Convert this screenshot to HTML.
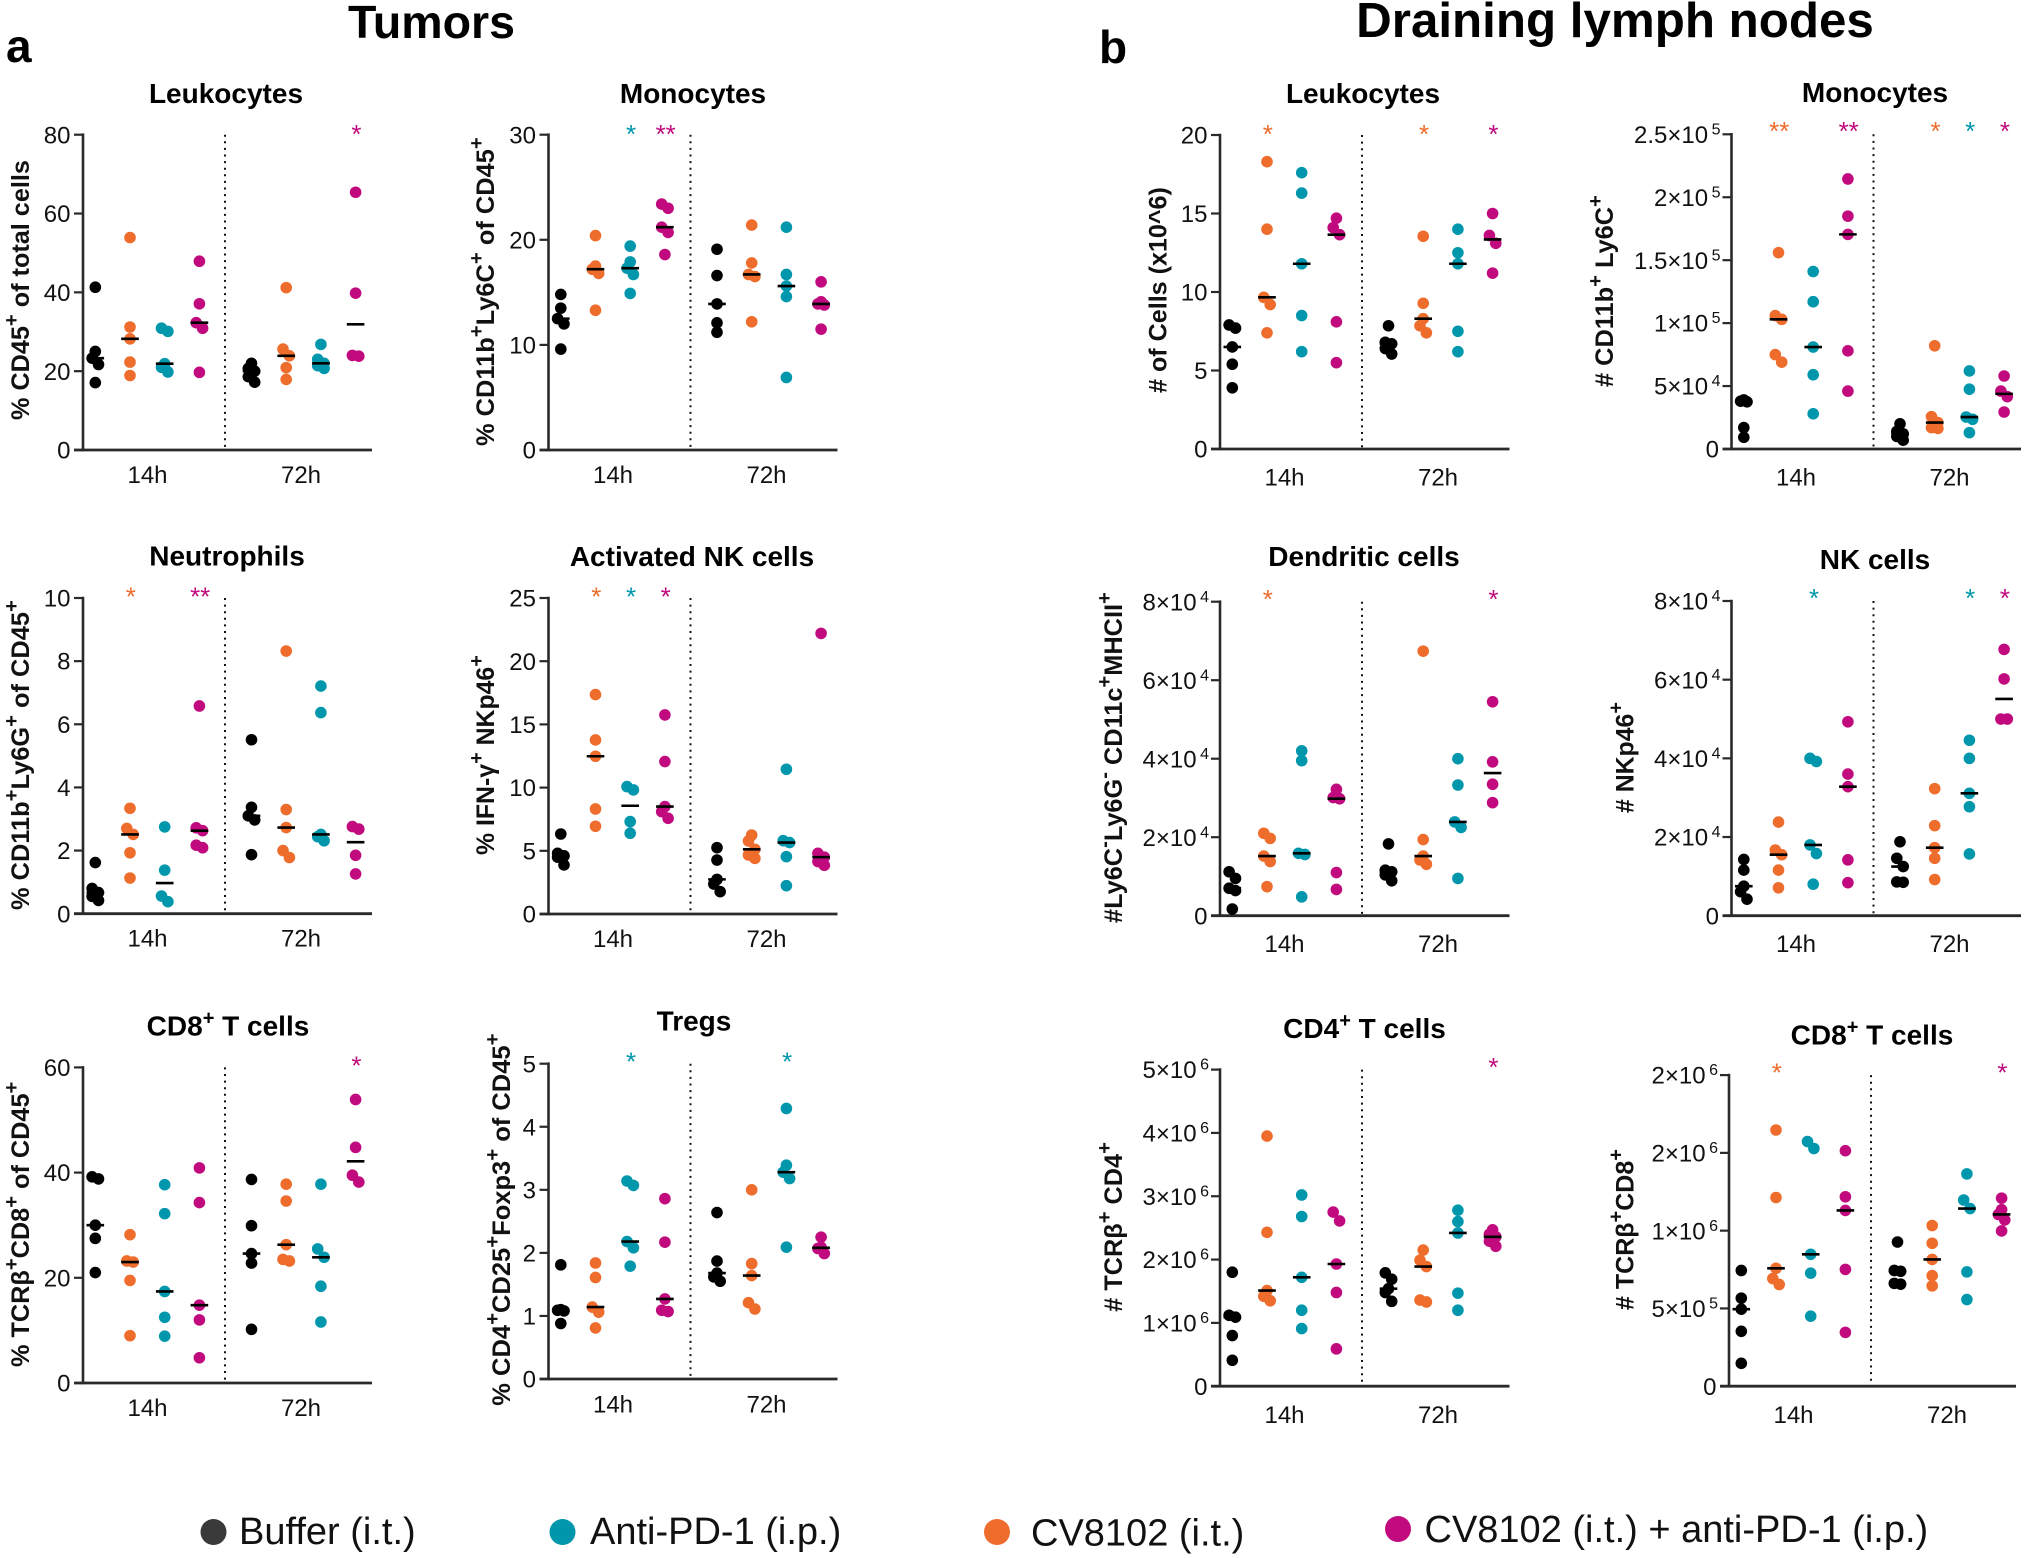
<!DOCTYPE html>
<html lang="en">
<head>
<meta charset="utf-8">
<title>Tumors and draining lymph nodes dot plots</title>
<style>
html,body{margin:0;padding:0;background:#fff;}
svg{display:block;font-family:"Liberation Sans",Arial,sans-serif;}
</style>
</head>
<body>
<svg id="figure" xmlns="http://www.w3.org/2000/svg" width="2024" height="1558" viewBox="0 0 2024 1558">
  <rect x="0" y="0" width="2024" height="1558" fill="#fff"/>
  <text x="431.500" y="38" text-anchor="middle" font-size="46.500" font-weight="700" fill="#000">Tumors</text>
  <text x="1615" y="37" text-anchor="middle" font-size="49.300" font-weight="700" fill="#000">Draining lymph nodes</text>
  <text x="6" y="62" font-size="46" font-weight="700" fill="#000">a</text>
  <text x="1099" y="63" font-size="46" font-weight="700" fill="#000">b</text>
  <g id="charts"></g>
  <g>
    <g>
      <circle cx="213.500" cy="1532" r="13" fill="#3a3a3a"/>
      <text x="239" y="1544" font-size="38" fill="#111">Buffer (i.t.)</text>
    </g>
    <g>
      <circle cx="562.500" cy="1532" r="13" fill="#0097ad"/>
      <text x="590" y="1544" font-size="38" fill="#111">Anti-PD-1 (i.p.)</text>
    </g>
    <g>
      <circle cx="997" cy="1532" r="13" fill="#ee6c2c"/>
      <text x="1031" y="1545.500" font-size="38" fill="#111">CV8102 (i.t.)</text>
    </g>
    <g>
      <circle cx="1398" cy="1529" r="13" fill="#c00a7e"/>
      <text x="1424.500" y="1542" font-size="38" fill="#111">CV8102 (i.t.) + anti-PD-1 (i.p.)</text>
    </g>
  </g>
</svg>
<script>
// ---- shared categories ----
const timepoints = ['14h', '72h'];
const groupNames = ['buffer', 'cv8102', 'anti-pd-1', 'combination', 'buffer', 'cv8102', 'anti-pd-1', 'combination'];
const groupColors = ['#000000', '#ee6c2c', '#0097ad', '#c00a7e', '#000000', '#ee6c2c', '#0097ad', '#c00a7e'];

// ---- Tumors: Leukocytes ----
const tumorLeukocytesTicks = [0, 20, 40, 60, 80];
const tumorLeukocytesLabels = ['0', '20', '40', '60', '80'];
const tumorLeukocytesSig = ['', '', '', '', '', '', '', '*'];
const tumorLeukocytesValues = [
  [41.3, 25, 23.3, 21.7, 17.1],
  [53.9, 31.2, 28.2, 22.3, 18.9],
  [30.9, 30.1, 21.9, 21, 19.8],
  [47.9, 37.1, 32.3, 30.9, 19.7],
  [22, 20.7, 20, 18.6, 17.2],
  [41.2, 25.6, 23.9, 20.9, 17.9],
  [26.8, 23, 22, 21.4, 20.7],
  [65.4, 39.8, 24, 23.8]
];

// ---- Tumors: Monocytes ----
const tumorMonocytesTicks = [0, 10, 20, 30];
const tumorMonocytesLabels = ['0', '10', '20', '30'];
const tumorMonocytesSig = ['', '', '*', '**', '', '', '', ''];
const tumorMonocytesValues = [
  [14.8, 13.5, 12.5, 12, 9.6],
  [20.4, 17.5, 17.2, 16.8, 13.3],
  [19.4, 17.9, 17.3, 16.7, 14.9],
  [23.4, 23, 21.2, 20.7, 18.6],
  [19.1, 16.6, 13.9, 12.1, 11.2],
  [21.4, 17.8, 16.7, 16.5, 12.2],
  [21.2, 16.7, 15.6, 14.6, 6.9],
  [16, 14.1, 13.9, 13.8, 11.5]
];

// ---- Tumors: Neutrophils ----
const tumorNeutrophilsTicks = [0, 2, 4, 6, 8, 10];
const tumorNeutrophilsLabels = ['0', '2', '4', '6', '8', '10'];
const tumorNeutrophilsSig = ['', '*', '', '**', '', '', '', ''];
const tumorNeutrophilsValues = [
  [1.62, 0.8, 0.67, 0.55, 0.42],
  [3.34, 2.7, 2.51, 1.93, 1.13],
  [2.75, 1.38, 0.56, 0.38],
  [6.58, 2.72, 2.63, 2.17, 2.09],
  [5.51, 3.37, 3.1, 2.97, 1.87],
  [8.32, 3.3, 2.73, 2, 1.78],
  [7.21, 6.37, 2.51, 2.44, 2.31],
  [2.76, 2.68, 1.85, 1.26]
];

// ---- Tumors: Activated NK cells ----
const tumorNkTicks = [0, 5, 10, 15, 20, 25];
const tumorNkLabels = ['0', '5', '10', '15', '20', '25'];
const tumorNkSig = ['', '*', '*', '*', '', '', '', ''];
const tumorNkValues = [
  [6.33, 4.8, 4.6, 4.5, 3.88],
  [17.36, 13.77, 12.48, 8.31, 6.94],
  [10.08, 9.82, 7.31, 6.39],
  [15.75, 12.06, 8.5, 8.1, 7.57],
  [5.25, 4.27, 2.74, 2.37, 1.77],
  [6.25, 5.78, 5.12, 4.67, 4.4],
  [11.45, 5.8, 5.65, 4.54, 2.24],
  [22.2, 4.8, 4.5, 4.15, 3.85]
];

// ---- Tumors: CD8+ T cells ----
const tumorCd8Ticks = [0, 20, 40, 60];
const tumorCd8Labels = ['0', '20', '40', '60'];
const tumorCd8Sig = ['', '', '', '', '', '', '', '*'];
const tumorCd8Values = [
  [39.2, 38.8, 30, 27.5, 21],
  [28.2, 23.2, 23, 19.5, 9],
  [37.7, 32.2, 17.4, 12.5, 8.9],
  [40.9, 34.3, 14.8, 12, 4.8],
  [38.7, 29.9, 24.6, 22.8, 10.2],
  [37.8, 34.6, 26.3, 23.5, 23.2],
  [37.8, 25.5, 23.9, 18.4, 11.6],
  [53.9, 44.8, 39.5, 38.2]
];

// ---- Tumors: Tregs ----
const tumorTregsTicks = [0, 1, 2, 3, 4, 5];
const tumorTregsLabels = ['0', '1', '2', '3', '4', '5'];
const tumorTregsSig = ['', '', '*', '', '', '', '*', ''];
const tumorTregsValues = [
  [1.81, 1.1, 1.09, 1.08, 0.88],
  [1.84, 1.61, 1.14, 1.06, 0.81],
  [3.14, 3.07, 2.18, 2.08, 1.79],
  [2.86, 2.17, 1.27, 1.09, 1.07],
  [2.64, 1.87, 1.68, 1.62, 1.55],
  [3, 1.83, 1.64, 1.21, 1.11],
  [4.29, 3.39, 3.28, 3.18, 2.09],
  [2.25, 2.09, 2.07, 1.99]
];

// ---- Lymph nodes: Leukocytes ----
const nodeLeukocytesTicks = [0, 5, 10, 15, 20];
const nodeLeukocytesLabels = ['0', '5', '10', '15', '20'];
const nodeLeukocytesSig = ['', '*', '', '', '', '*', '', '*'];
const nodeLeukocytesValues = [
  [7.9, 7.7, 6.5, 5.4, 3.9],
  [18.3, 14, 9.66, 9.2, 7.4],
  [17.6, 16.3, 11.8, 8.5, 6.2],
  [14.7, 14.1, 13.65, 8.1, 5.5],
  [7.85, 6.8, 6.7, 6.4, 6.05],
  [13.55, 9.28, 8.3, 7.85, 7.4],
  [14, 12.5, 11.8, 7.5, 6.2],
  [15, 13.6, 13.1, 11.2]
];

// ---- Lymph nodes: Monocytes ----
const nodeMonocytesTicks = [0, 50000, 100000, 150000, 200000, 250000];
const nodeMonocytesLabels = ['0', '5×10^4', '1×10^5', '1.5×10^5', '2×10^5', '2.5×10^5'];
const nodeMonocytesSig = ['', '**', '', '**', '', '*', '*', '*'];
const nodeMonocytesValues = [
  [39000, 38000, 37500, 17000, 9300],
  [156000, 106000, 103000, 75000, 69000],
  [141000, 117000, 81000, 59000, 28000],
  [214500, 185000, 170500, 78000, 46000],
  [20000, 14000, 12000, 10000, 7000],
  [82000, 25700, 21000, 17000, 16400],
  [62000, 47500, 25400, 23600, 13000],
  [58000, 46000, 41600, 29400]
];

// ---- Lymph nodes: Dendritic cells ----
const nodeDendriticTicks = [0, 20000, 40000, 60000, 80000];
const nodeDendriticLabels = ['0', '2×10^4', '4×10^4', '6×10^4', '8×10^4'];
const nodeDendriticSig = ['', '*', '', '', '', '', '', '*'];
const nodeDendriticValues = [
  [11200, 9500, 7000, 6400, 1700],
  [21000, 19700, 15200, 13800, 7400],
  [42000, 39500, 15900, 15600, 4800],
  [32200, 30100, 29800, 11000, 6700],
  [18300, 11600, 11200, 10400, 8900],
  [67400, 19400, 15200, 14200, 13100],
  [40000, 33300, 23900, 22500, 9500],
  [54500, 39200, 33500, 28800]
];

// ---- Lymph nodes: NK cells ----
const nodeNkTicks = [0, 20000, 40000, 60000, 80000];
const nodeNkLabels = ['0', '2×10^4', '4×10^4', '6×10^4', '8×10^4'];
const nodeNkSig = ['', '', '*', '', '', '', '*', '*'];
const nodeNkValues = [
  [14300, 11600, 7500, 6100, 4200],
  [23800, 16700, 15500, 11600, 7100],
  [40000, 39200, 18000, 15800, 8000],
  [49300, 36000, 32800, 14200, 8400],
  [18800, 14600, 12500, 8600, 8500],
  [32300, 22900, 17300, 14600, 9200],
  [44600, 40000, 31100, 27700, 15700],
  [67700, 60200, 50000, 50000]
];

// ---- Lymph nodes: CD4+ T cells ----
const nodeCd4Ticks = [0, 1000000, 2000000, 3000000, 4000000, 5000000];
const nodeCd4Labels = ['0', '1×10^6', '2×10^6', '3×10^6', '4×10^6', '5×10^6'];
const nodeCd4Sig = ['', '', '', '', '', '', '', '*'];
const nodeCd4Values = [
  [1800000, 1120000, 1090000, 800000, 410000],
  [3950000, 2430000, 1510000, 1420000, 1350000],
  [3020000, 2680000, 1720000, 1200000, 910000],
  [2750000, 2610000, 1930000, 1480000, 590000],
  [1790000, 1690000, 1540000, 1480000, 1340000],
  [2150000, 1990000, 1890000, 1360000, 1330000],
  [2780000, 2600000, 2420000, 1470000, 1200000],
  [2470000, 2400000, 2360000, 2290000, 2210000]
];

// ---- Lymph nodes: CD8+ T cells ----
const nodeCd8Ticks = [0, 500000, 1000000, 1500000, 2000000];
const nodeCd8Labels = ['0', '5×10^5', '1×10^6', '2×10^6', '2×10^6'];
const nodeCd8Sig = ['', '*', '', '', '', '', '', '*'];
const nodeCd8Values = [
  [744000, 566000, 495000, 353000, 147000],
  [1647000, 1213000, 758000, 692000, 654000],
  [1573000, 1528000, 848000, 727000, 450000],
  [1514000, 1218000, 1130000, 751000, 346000],
  [927000, 744000, 739000, 661000, 656000],
  [1033000, 919000, 815000, 711000, 645000],
  [1365000, 1197000, 1142000, 735000, 557000],
  [1209000, 1135000, 1104000, 1069000, 998000]
];

// ---- panel wiring and layout ----
const panelSpecs = [
  {id:'tumor-leukocytes', title:'Leukocytes', yTitle:'% CD45^+ of total cells', ticks:tumorLeukocytesTicks, labels:tumorLeukocytesLabels, sig:tumorLeukocytesSig, vals:tumorLeukocytesValues,
   box:[83,134.7,450,289], tbox:[226,103], ybox:[29,420,260], star:128, xb:483},
  {id:'tumor-monocytes', title:'Monocytes', yTitle:'% CD11b^+Ly6C^+ of CD45^+', ticks:tumorMonocytesTicks, labels:tumorMonocytesLabels, sig:tumorMonocytesSig, vals:tumorMonocytesValues,
   box:[548.5,134.7,450,289], tbox:[693,103], ybox:[494,446,309], star:128, xb:483},
  {id:'tumor-neutrophils', title:'Neutrophils', yTitle:'% CD11b^+Ly6G^+ of CD45^+', ticks:tumorNeutrophilsTicks, labels:tumorNeutrophilsLabels, sig:tumorNeutrophilsSig, vals:tumorNeutrophilsValues,
   box:[83,598,913.7,289], tbox:[227,565.7], ybox:[29,910,310], star:590.7, xb:946.7},
  {id:'tumor-activated-nk', title:'Activated NK cells', yTitle:'% IFN-γ^+ NKp46^+', ticks:tumorNkTicks, labels:tumorNkLabels, sig:tumorNkSig, vals:tumorNkValues,
   box:[548.5,598,914,289], tbox:[692,566], ybox:[494,855,200], star:590.7, xb:947},
  {id:'tumor-cd8', title:'CD8^+ T cells', yTitle:'% TCRβ^+CD8^+ of CD45^+', ticks:tumorCd8Ticks, labels:tumorCd8Labels, sig:tumorCd8Sig, vals:tumorCd8Values,
   box:[83,1067.4,1383,289], tbox:[228,1035.3], ybox:[29,1367,285.6], star:1059.6, xb:1416},
  {id:'tumor-tregs', title:'Tregs', yTitle:'% CD4^+CD25^+Foxp3^+ of CD45^+', ticks:tumorTregsTicks, labels:tumorTregsLabels, sig:tumorTregsSig, vals:tumorTregsValues,
   box:[548.5,1063.7,1379,289], tbox:[694,1030.5], ybox:[510,1405.7,372.3], star:1055.6, xb:1412.4},
  {id:'node-leukocytes', title:'Leukocytes', yTitle:'# of Cells (x10^6)', raw:true, ticks:nodeLeukocytesTicks, labels:nodeLeukocytesLabels, sig:nodeLeukocytesSig, vals:nodeLeukocytesValues,
   box:[1220,135,449,289.5], tbox:[1363,103], ybox:[1166.5,393,206], star:128, xb:485.7},
  {id:'node-monocytes', title:'Monocytes', yTitle:'# CD11b^+ Ly6C^+', ticks:nodeMonocytesTicks, labels:nodeMonocytesLabels, sig:nodeMonocytesSig, vals:nodeMonocytesValues,
   box:[1731.5,134.3,449,289.5], tbox:[1875,102], ybox:[1613,387,192], star:125, xb:485.7},
  {id:'node-dendritic', title:'Dendritic cells', yTitle:'#Ly6C^-Ly6G^- CD11c^+MHCII^+', ticks:nodeDendriticTicks, labels:nodeDendriticLabels, sig:nodeDendriticSig, vals:nodeDendriticValues,
   box:[1220,601.7,915.7,289.5], tbox:[1364,566], ybox:[1122,923,331], star:593, xb:952},
  {id:'node-nk', title:'NK cells', yTitle:'# NKp46^+', ticks:nodeNkTicks, labels:nodeNkLabels, sig:nodeNkSig, vals:nodeNkValues,
   box:[1731.5,601,915.7,289.5], tbox:[1875,569], ybox:[1633.6,813,111], star:592, xb:952},
  {id:'node-cd4', title:'CD4^+ T cells', yTitle:'# TCRβ^+ CD4^+', ticks:nodeCd4Ticks, labels:nodeCd4Labels, sig:nodeCd4Sig, vals:nodeCd4Values,
   box:[1220,1069.6,1386.2,289.5], tbox:[1364.5,1038.2], ybox:[1122,1311.7,169.7], star:1061, xb:1423},
  {id:'node-cd8', title:'CD8^+ T cells', yTitle:'# TCRβ^+CD8^+', ticks:nodeCd8Ticks, labels:nodeCd8Labels, sig:nodeCd8Sig, vals:nodeCd8Values,
   box:[1729,1075.1,1386.2,287], tbox:[1872,1044.5], ybox:[1633.6,1310,161], star:1066.6, xb:1423}
];

const NS = 'http://www.w3.org/2000/svg';
const AXIS = '#2a2a2a';

function node(tag, attrs, parent) {
  const e = document.createElementNS(NS, tag);
  for (const k in attrs) e.setAttribute(k, attrs[k]);
  parent.appendChild(e);
  return e;
}

function yScale(ticks, box) {
  const max = ticks[ticks.length - 1];
  return v => box[2] - (v / max) * (box[2] - box[1]);
}

// Horizontal position of a group on the categorical axis.
function xBand(box, groupIndex) {
  const time = groupIndex < 4 ? 0 : 1;
  const within = groupIndex % 4;
  return box[0] + 12.3 + within * 34.7 + time * 156.2;
}

function median(values) {
  const s = values.slice().sort((a, b) => a - b);
  const m = Math.floor(s.length / 2);
  return s.length % 2 ? s[m] : (s[m - 1] + s[m]) / 2;
}

// Dodge points that would overlap vertically (scatter-dot style).
function dodge(pixelYs) {
  const order = pixelYs.map((y, i) => [y, i]).sort((a, b) => a[0] - b[0]);
  const out = new Array(pixelYs.length).fill(0);
  let start = 0;
  for (let i = 1; i <= order.length; i++) {
    if (i === order.length || order[i][0] - order[i - 1][0] > 9.3) {
      const n = i - start;
      if (n > 1) {
        for (let j = 0; j < n; j++) {
          const even = n % 2 === 0;
          let off;
          if (even) off = j % 2 === 0 ? -3.2 : 3.2;
          else off = j === 0 ? 0 : (j % 2 === 1 ? -3.2 : 3.2);
          out[order[start + j][1]] = off;
        }
      }
      start = i;
    }
  }
  return out;
}

// Writes a string with ^x superscripts into a text element.
function richText(textEl, str, supSize, rise, raw) {
  if (raw) { textEl.textContent = str; return; }
  const parts = str.split(/(\^.)/);
  let pending = 0;
  parts.forEach(p => {
    if (!p) return;
    const isSup = p[0] === '^';
    const t = node('tspan', {}, textEl);
    if (isSup) {
      t.setAttribute('font-size', supSize);
      t.setAttribute('dy', -rise);
      pending = rise;
      t.textContent = p[1];
    } else {
      if (pending) { t.setAttribute('dy', pending); pending = 0; }
      t.textContent = p;
    }
  });
}

function drawTickLabel(parent, label, x, y) {
  const hasExp = label.indexOf('^') >= 0;
  const t = node('text', {x: hasExp ? x + 1.5 : x, y: y, 'text-anchor': 'end', 'font-size': 24, fill: '#111'}, parent);
  
  
  const i = label.indexOf('^');
  if (i < 0) { t.textContent = label; return; }
  const base = node('tspan', {}, t);
  base.textContent = label.slice(0, i);
  const sup = node('tspan', {'font-size': 16, dy: -8.5, dx: 3.5}, t);
  sup.textContent = label.slice(i + 1);
}

function drawPanel(spec) {
  const root = document.getElementById('charts');
  const g = node('g', {}, root);
  
  

  const box = spec.box;
  const y = yScale(spec.ticks, box);
  const x0 = box[0], yB = box[2], yT = box[1], w = box[3];

  const title = node('text', {x: spec.tbox[0], y: spec.tbox[1], 'text-anchor': 'middle', 'font-size': 28, 'font-weight': 700, fill: '#000'}, g);
  
  
  richText(title, spec.title, 20, 11);

  const yg = node('g', {transform: 'translate(' + spec.ybox[0] + ',' + spec.ybox[1] + ') rotate(-90)'}, g);
  
  
  const yt = node('text', {x: 0, y: 0, 'font-size': 25, 'font-weight': 700, fill: '#111'}, yg);
  
  
  richText(yt, spec.yTitle, 20, 11, spec.raw);
  const len = yt.getComputedTextLength();
  if (len > 0) yt.setAttribute('transform', 'scale(' + (spec.ybox[2] / len).toFixed(4) + ',1)');

  const divider = node('line', {x1: x0 + 142, x2: x0 + 142, y1: yT, y2: yB, stroke: '#111', 'stroke-width': 2, 'stroke-dasharray': '2 4.6'}, g);
  
  

  const yAxis = node('line', {x1: x0, x2: x0, y1: yT - 1.3, y2: yB + 1.3, stroke: AXIS, 'stroke-width': 2.6}, g);
  
  
  const xAxis = node('line', {x1: x0 - 9, x2: x0 + w, y1: yB, y2: yB, stroke: AXIS, 'stroke-width': 2.8}, g);
  
  

  spec.ticks.forEach((tv, i) => {
    const ty = y(tv);
    const tick = node('line', {x1: x0 - 9, x2: x0, y1: ty, y2: ty, stroke: AXIS, 'stroke-width': 2.2}, g);
    
    
    drawTickLabel(g, spec.labels[i], x0 - 12.5, ty + 8.6);
  });

  timepoints.forEach((name, i) => {
    const t = node('text', {x: x0 + 64.5 + i * 153.5, y: spec.xb, 'text-anchor': 'middle', 'font-size': 24, fill: '#111'}, g);
    
    
    t.textContent = name;
  });

  spec.vals.forEach((values, k) => {
    const cx = xBand(box, k);
    const pys = values.map(y);
    const offs = dodge(pys);
    values.forEach((v, j) => {
      const c = node('circle', {cx: cx + offs[j], cy: pys[j], r: 5.8, fill: groupColors[k]}, g);
      
      
    });
  });

  spec.vals.forEach((values, k) => {
    const cx = xBand(box, k);
    const my = y(median(values));
    const bar = node('line', {x1: cx - 8.8, x2: cx + 8.8, y1: my, y2: my, stroke: '#000', 'stroke-width': 2.6}, g);
    
    
  });

  spec.sig.forEach((s, k) => {
    if (!s) return;
    const t = node('text', {x: xBand(box, k) + 0.8, y: spec.star + 15, 'text-anchor': 'middle', 'font-size': 26, fill: groupColors[k]}, g);
    
    
    t.textContent = s;
  });
}

panelSpecs.forEach(drawPanel);
</script>
</body>
</html>
